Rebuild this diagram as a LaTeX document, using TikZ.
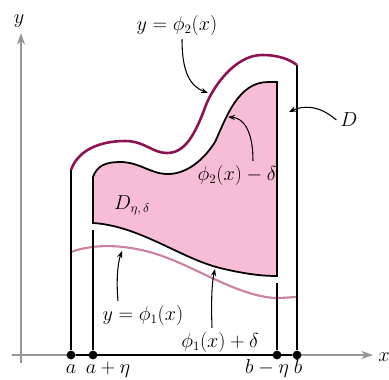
\documentclass[tikz,border=0pt]{standalone}
\usepackage{amsmath}
\usetikzlibrary{arrows.meta,positioning,calc}
\definecolor{regfill}{RGB}{248,189,214}
\definecolor{topc}{RGB}{142,18,82}
\definecolor{lowc}{RGB}{204,128,165}
\definecolor{axc}{RGB}{150,150,150}
\tikzset{bd/.style={line width=1.5pt},tc/.style={draw=topc,line width=2.2pt},
 lc/.style={draw=lowc,line width=1.8pt},
 ax/.style={draw=axc,line width=1.2pt,-{Stealth[length=10pt,width=7pt]}},
 ptr/.style={-{Stealth[length=6pt,width=4.5pt]},line width=0.9pt},
 dot/.style={circle,fill=black,inner sep=0pt,minimum size=7.5pt},
 tick/.style={anchor=base,inner sep=0pt}}
\begin{document}
\begin{tikzpicture}[x=0.03cm,y=-0.03cm,font=\fontsize{16}{18}\selectfont]
\useasboundingbox (0,0) rectangle (389,379);
\coordinate(xs) at (12,355);\coordinate(xe) at (373,355);
\coordinate(ys) at (21,363);\coordinate(ye) at (21,33);
\draw[ax](xs)--(xe);\draw[ax](ys)--(ye);
\node(lx) at (384,357){$x$};\node(ly) at (19,21){$y$};
% region D_{eta,delta}
\draw[bd,fill=regfill](93,177) .. controls (97,166) and (105,162) .. (120,162) .. controls (140,162) and (150,174) .. (168,174)
 .. controls (188,174) and (205,158) .. (215,142) .. controls (226,118) and (238,82) .. (268,82) -- (277,82) -- (277,276)
 .. controls (262,276) and (245,274) .. (220,268) .. controls (180,258) and (140,226) .. (93,223) -- cycle;
\draw[lc](71,252) .. controls (95,243) and (130,244) .. (165,257) .. controls (200,270) and (240,296) .. (275,298)
 .. controls (285,298) and (292,297) .. (297,297);
\node[dot](pa) at (71,355){};\node[dot](pan) at (93,355){};
\node[dot](pbn) at (277,355){};\node[dot](pb) at (297,355){};
\draw[line width=2.2pt](pa)--(pb);
\coordinate(o1) at (71,170);\coordinate(o2) at (297,65);
\coordinate(l1) at (93,230);\coordinate(l2) at (277,283);
\draw[bd](pa)--(o1);\draw[bd](pb)--(o2);\draw[bd](pan)--(l1);\draw[bd](pbn)--(l2);
\draw[tc](o1) .. controls (78,150) and (100,141) .. (125,141) .. controls (145,141) and (152,153) .. (167,153)
 .. controls (185,153) and (195,135) .. (206,105) .. controls (213,87) and (235,55) .. (262,55)
 .. controls (280,55) and (290,60) .. (o2);
% labels
\node(lphi2) at (177,25){$y=\phi_2(x)$};
\node(lD) at (349,120){$D$};
\node(lphid) at (237,175){$\phi_2(x)-\delta$};
\node(ldnd) at (132,205){$D_{\eta,\,\delta}$};
\node(lphi1) at (143,315){$y=\phi_1(x)$};
\node(lphip) at (220,342){$\phi_1(x)+\delta$};
\coordinate(t2) at (208,93);\coordinate(td) at (289,112);\coordinate(t2d) at (228,117);
\coordinate(t1) at (122,251);\coordinate(t1d) at (215,269);
\draw[ptr]($(lphi2.south)+(5,0)$) .. controls (182,72) and (190,86) .. (t2);
\draw[ptr](lD.west) .. controls (318,104) and (302,106) .. (td);
\draw[ptr]($(lphid.north)+(16,0)$) .. controls (253,130) and (243,118) .. (t2d);
\draw[ptr]($(lphi1.north)+(-25,0)$) .. controls (116,280) and (118,262) .. (t1);
\draw[ptr]($(lphip.north)+(-8,0)$) .. controls (211,300) and (212,282) .. (t1d);
\node[tick](la) at (71,373){$a$};\node[tick](lan) at (108,373){$a+\eta$};
\node[tick](lbn) at (267,373){$b-\eta$};\node[tick](lb) at (298,373){$b$};
\end{tikzpicture}
\end{document}
